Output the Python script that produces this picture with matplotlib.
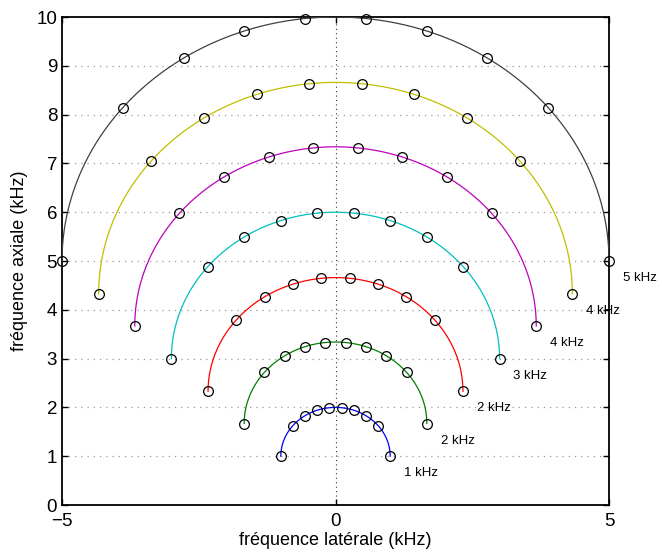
import numpy as np
import matplotlib
matplotlib.use("Agg")
import matplotlib.pyplot as plt

plt.rcParams['font.family'] = ['Liberation Sans', 'DejaVu Sans']

# Radii of the arcs (kHz) and their labels
radii = [1.0, 1.67, 2.33, 3.0, 3.67, 4.33, 5.0]
labels = ["1 kHz", "2 kHz", "2 kHz", "3 kHz", "4 kHz", "4 kHz", "5 kHz"]
colors = ["#0000ff", "#008000", "#ff0000", "#00bfbf", "#bf00bf", "#bfbf00", "#404040"]
n_markers = 10
xticks = [-5, 0, 5]
yticks = list(range(0, 11))

fig = plt.figure(figsize=(6.62, 5.57), dpi=100)
ax = fig.add_axes([62/662, 1-505/557, (609-62)/662, (505-17)/557])

for r, lab, c in zip(radii, labels, colors):
    th = np.linspace(-np.pi/2, np.pi/2, 200)
    ax.plot(r*np.sin(th), r*(1+np.cos(th)), color=c, lw=0.9, zorder=3)
    xm = np.linspace(-r, r, n_markers)
    ym = r + np.sqrt(np.clip(r**2 - xm**2, 0, None))
    ax.plot(xm, ym, 'o', mfc='none', mec='black', ms=7, mew=0.9, zorder=4,
            clip_on=False)
    ax.text(r + 0.25, r - 0.35, lab, fontsize=9.5, ha='left', va='center',
            clip_on=False, zorder=5)

ax.set_xlim(-5, 5)
ax.set_ylim(0, 10)
ax.set_xticks(xticks)
ax.set_yticks(yticks)
ax.set_xticklabels(["\u22125", "0", "5"])
ax.tick_params(direction='in', top=True, right=True, labelsize=13.5, length=4, width=1)
ax.tick_params(axis='x', pad=6)
for y in yticks[1:-1]:
    ax.axhline(y, color='0.6', lw=0.9, ls=(0, (1, 4)), zorder=1)
ax.axvline(0, color='0.2', lw=0.8, ls=(0, (1, 3)), zorder=1)
for s in ax.spines.values():
    s.set_linewidth(1.3)
ax.set_xlabel("fréquence latérale (kHz)", fontsize=13, labelpad=1)
ax.set_ylabel("fréquence axiale (kHz)", fontsize=13, labelpad=6)

fig.savefig("out.png", dpi=100)
